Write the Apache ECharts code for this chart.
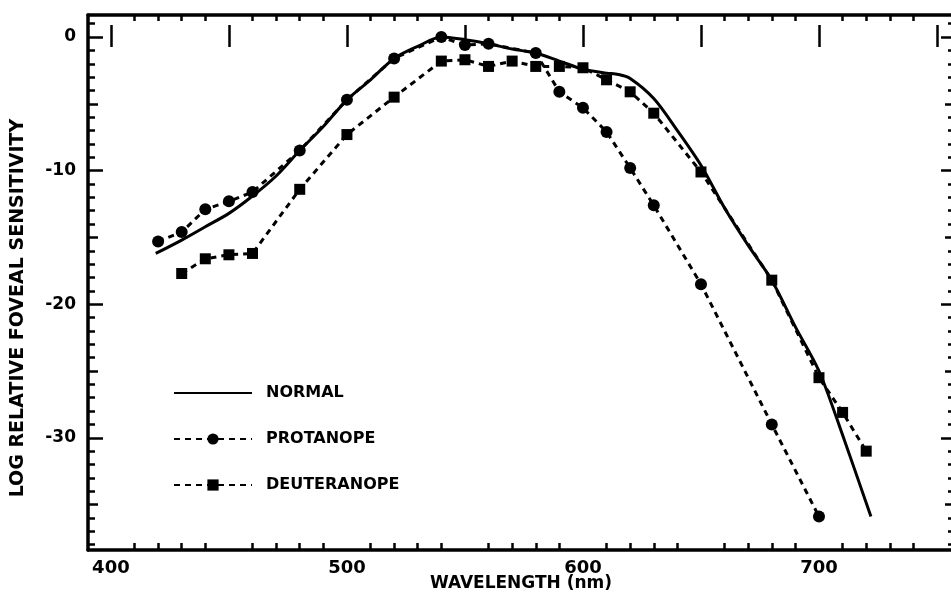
<!DOCTYPE html>
<html><head><meta charset="utf-8">
<script src="https://cdn.jsdelivr.net/npm/echarts@6/dist/echarts.min.js"></script>
<style>html,body{margin:0;padding:0;background:#fff}#c{width:951px;height:595px}</style>
</head><body><div id="c"></div>
<script>
// ---- data ----
const normalWl  = [419, 430, 440, 450, 460, 470, 480, 490, 500, 510, 520, 530, 540, 550, 560, 570, 580, 590, 600, 610, 615, 620, 630, 640, 650, 660, 670, 680, 690, 700, 710, 722];
const normalVal = [-16.2, -15.2, -14.2, -13.2, -11.9, -10.4, -8.5, -6.7, -4.7, -3.2, -1.6, -0.7, 0.0, -0.2, -0.5, -0.9, -1.2, -1.8, -2.4, -2.7, -2.8, -3.1, -4.6, -7.0, -9.6, -12.8, -15.6, -18.2, -21.7, -25.0, -29.8, -35.9];

const protWl  = [420, 430, 440, 450, 460, 480, 500, 520, 540, 550, 560, 580, 590, 600, 610, 620, 630, 650, 680, 700];
const protVal = [-15.3, -14.6, -12.9, -12.3, -11.6, -8.5, -4.7, -1.6, 0.0, -0.6, -0.5, -1.2, -4.1, -5.3, -7.1, -9.8, -12.6, -18.5, -29.0, -35.9];

const deutWl  = [430, 440, 450, 460, 480, 500, 520, 540, 550, 560, 570, 580, 590, 600, 610, 620, 630, 650, 680, 700, 710, 720];
const deutVal = [-17.7, -16.6, -16.3, -16.2, -11.4, -7.3, -4.5, -1.8, -1.7, -2.2, -1.8, -2.2, -2.2, -2.3, -3.2, -4.1, -5.7, -10.1, -18.2, -25.5, -28.1, -31.0];

const seriesNames = ['NORMAL', 'PROTANOPE', 'DEUTERANOPE'];
const xTickLabels = [400, 500, 600, 700];
const yTickLabels = [0, -10, -20, -30];

// ---- axis decoration ticks ----
const xMinor = [], xMajor = [];
for (let v = 400; v <= 750; v += 10) { if (v % 50 === 0) xMajor.push(v); else xMinor.push(v); }
const yMinor = [], yMid = [], yMajor = [];
for (let v = 1; v >= -38; v -= 1) {
  if (v % 10 === 0) yMajor.push(v); else if (v % 5 === 0) yMid.push(v); else yMinor.push(v);
}

const pair = (xs, ys) => xs.map((x, i) => [x, ys[i]]);
const FONT = 'DejaVu Sans';
const XMIN = 390.3, XMAX = 757.2, YMIN = -38.4, YMAX = 1.65;

function xAx(pos, ticks, len, extra) {
  return Object.assign({
    type: 'value', position: pos, min: XMIN, max: XMAX, splitLine: {show: false},
    axisLine: {show: false}, axisLabel: {show: false},
    axisTick: {show: true, inside: true, length: len, customValues: ticks, lineStyle: {color: '#000', width: 2.5}}
  }, extra || {});
}
function yAx(pos, ticks, len, extra) {
  return Object.assign({
    type: 'value', position: pos, min: YMIN, max: YMAX, splitLine: {show: false},
    axisLine: {show: false}, axisLabel: {show: false},
    axisTick: {show: true, inside: true, length: len, customValues: ticks, lineStyle: {color: '#000', width: 2.5}}
  }, extra || {});
}

const chart = echarts.init(document.getElementById('c'), null, {renderer: 'canvas'});
chart.setOption({
  backgroundColor: '#fff',
  animation: false,
  grid: {left: 88, right: -3, top: 15, bottom: 45, containLabel: false, outerBoundsMode: 'none'},
  xAxis: [
    xAx('bottom', xMinor, 7, {
      axisLine: {show: true, onZero: false, lineStyle: {color: '#000', width: 3.5}},
      axisLabel: {show: true, customValues: xTickLabels, margin: 9, color: '#000',
        fontFamily: FONT, fontWeight: 'bold', fontSize: 18},
      name: 'WAVELENGTH (nm)', nameLocation: 'middle', nameGap: 34, nameMoveOverlap: false,
      nameTextStyle: {color: '#000', fontFamily: FONT, fontWeight: 'bold', fontSize: 17, verticalAlign: 'middle'}
    }),
    xAx('bottom', xMajor, 12),
    xAx('top', xMinor, 6, {axisLine: {show: true, onZero: false, lineStyle: {color: '#000', width: 3.5}}}),
    xAx('top', xMajor, 10)
  ],
  yAxis: [
    yAx('left', yMinor, 7, {
      axisLine: {show: true, onZero: false, lineStyle: {color: '#000', width: 3.5}},
      axisLabel: {show: true, customValues: yTickLabels, margin: 12, color: '#000',
        fontFamily: FONT, fontWeight: 'bold', fontSize: 17}
    }),
    yAx('left', yMid, 10),
    yAx('left', yMajor, 15),
    yAx('right', yMinor, 6),
    yAx('right', yMid, 9),
    yAx('right', yMajor, 13)
  ],
  legend: {
    orient: 'vertical', left: 173, top: 385, padding: 0, itemWidth: 78, itemHeight: 14, itemGap: 30,
    data: [{name: seriesNames[0], itemStyle: {opacity: 0}}, seriesNames[1], seriesNames[2]],
    textStyle: {color: '#000', fontFamily: FONT, fontWeight: 'bold', fontSize: 16, padding: [0, 0, 0, 9]}
  },
  graphic: [{
    type: 'text',
    style: {text: 'LOG RELATIVE FOVEAL SENSITIVITY', fill: '#000', font: 'bold 19px "DejaVu Sans"',
      textAlign: 'center', textVerticalAlign: 'middle'},
    rotation: Math.PI / 2, x: 18, y: 308
  }],
  series: [
    {name: seriesNames[0], type: 'line', data: pair(normalWl, normalVal), xAxisIndex: 0, yAxisIndex: 0,
      smooth: 0.3, showSymbol: false, symbol: 'none',
      lineStyle: {color: '#000', width: 3}, itemStyle: {color: '#000'}},
    {name: seriesNames[1], type: 'line', data: pair(protWl, protVal), xAxisIndex: 0, yAxisIndex: 0,
      symbol: 'circle', symbolSize: 12,
      lineStyle: {color: '#000', width: 3, type: [6, 5]}, itemStyle: {color: '#000'}},
    {name: seriesNames[2], type: 'line', data: pair(deutWl, deutVal), xAxisIndex: 0, yAxisIndex: 0,
      symbol: 'rect', symbolSize: 11,
      lineStyle: {color: '#000', width: 3, type: [6, 5]}, itemStyle: {color: '#000'}}
  ]
});
</script></body></html>
